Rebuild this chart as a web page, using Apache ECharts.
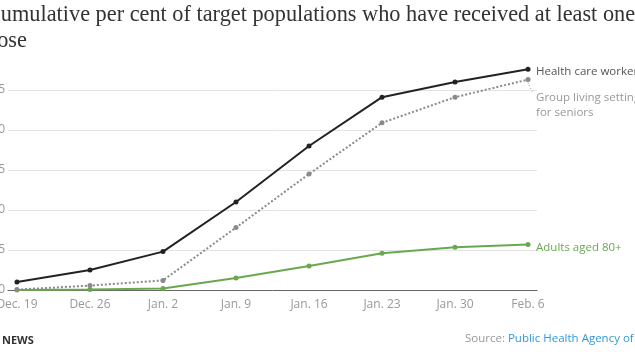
<!DOCTYPE html>
<html>
<head>
<meta charset="utf-8">
<script src="https://cdn.jsdelivr.net/npm/echarts@6/dist/echarts.min.js"></script>
<style>
  html, body { margin: 0; padding: 0; background: #fff; }
  #chart { position: absolute; left: 0; top: 0; width: 635px; height: 357px; }
</style>
</head>
<body>
<div id="chart"></div>
<script>
const categories = ['Dec. 19', 'Dec. 26', 'Jan. 2', 'Jan. 9', 'Jan. 16', 'Jan. 23', 'Jan. 30', 'Feb. 6'];
const healthCareWorkers = [1.0, 2.5, 4.8, 11.0, 18.0, 24.1, 26.0, 27.6];
const groupLivingSeniors = [0.05, 0.55, 1.2, 7.8, 14.5, 20.9, 24.1, 26.3];
const adults80plus = [0.0, 0.05, 0.2, 1.5, 3.0, 4.6, 5.35, 5.7];
const yTicks = [0, 5, 10, 15, 20, 25];

const titleLine1 = 'Cumulative per cent of target populations who have received at least one';
const titleLine2 = 'dose';

function toXY(arr) { return arr.map((v, i) => [i, v]); }

const chart = echarts.init(document.getElementById('chart'), null, { renderer: 'canvas' });
const labelFont = { fontFamily: 'Open Sans', fontSize: 12 };
const endFont = { fontFamily: 'Open Sans', fontSize: 11.5 };
const titleStyle = { fontFamily: 'Liberation Serif', fontSize: 22.3, fill: '#333' };

const baseGraphic = [
  { type: 'text', x: -14, y: 4, style: { text: titleLine1, ...titleStyle } },
  { type: 'text', x: -14, y: 30, style: { text: titleLine2, ...titleStyle } },
  { type: 'text', x: 2, y: 335, style: { text: 'NEWS', fontFamily: 'Open Sans', fontSize: 11, fontWeight: 'bold', fill: '#333' } },
  { type: 'text', x: 465, y: 333, style: {
      text: '{a|Source:} {b|Public Health Agency of Canada}',
      fontFamily: 'Open Sans', fontSize: 11.5,
      rich: {
        a: { fontFamily: 'Open Sans', fontSize: 11.5, fill: '#999', color: '#999' },
        b: { fontFamily: 'Open Sans', fontSize: 11.5, fill: '#3399d6', color: '#3399d6' }
      }
  } }
];

const option = {
  animation: false,
  grid: { left: 8, right: 98, top: 90, bottom: 67, containLabel: false, outerBoundsMode: 'none' },
  xAxis: {
    type: 'value',
    min: -0.123,
    max: 7.123,
    interval: 1,
    splitLine: { show: false },
    axisTick: { show: false },
    axisLine: { show: true, lineStyle: { color: '#666', width: 1 } },
    axisLabel: {
      ...labelFont, color: '#999', margin: 9,
      showMinLabel: true, showMaxLabel: true,
      customValues: categories.map((c, i) => i),
      formatter: v => categories[Math.round(v)] || ''
    }
  },
  yAxis: {
    type: 'value',
    min: 0, max: yTicks[yTicks.length - 1], interval: 5,
    axisLine: { show: false },
    axisTick: { show: false },
    splitLine: { lineStyle: { color: '#e3e3e3', width: 1 } },
    axisLabel: { ...labelFont, color: '#999', margin: 3, formatter: v => String(v) }
  },
  series: [
    {
      name: 'Adults aged 80+',
      type: 'line', clip: false,
      data: toXY(adults80plus),
      symbol: 'circle', symbolSize: 5,
      lineStyle: { color: '#6aa84f', width: 2 },
      itemStyle: { color: '#6aa84f' },
      endLabel: { show: true, formatter: 'Adults aged 80+', color: '#6aa84f', ...endFont, distance: 5, offset: [3, 3] },
      z: 3
    },
    {
      name: 'Group living settings for seniors',
      type: 'line', clip: false,
      data: toXY(groupLivingSeniors),
      symbol: 'circle', symbolSize: 5,
      lineStyle: { color: '#8a8a8a', width: 2, type: [2, 2] },
      itemStyle: { color: '#8a8a8a' },
      endLabel: { show: true, formatter: 'Group living settings\nfor seniors', color: '#999', ...endFont, lineHeight: 15, distance: 5, offset: [3, 26] },
      z: 4
    },
    {
      name: 'Health care workers',
      type: 'line', clip: false,
      data: toXY(healthCareWorkers),
      symbol: 'circle', symbolSize: 5,
      lineStyle: { color: '#222', width: 2 },
      itemStyle: { color: '#222' },
      endLabel: { show: true, formatter: 'Health care workers', color: '#555', ...endFont, distance: 5, offset: [3, 3] },
      z: 5
    }
  ],
  graphic: baseGraphic
};
chart.setOption(option);

// dotted leader from last group-living point to its label
const last = groupLivingSeniors.length - 1;
const p = chart.convertToPixel({ gridIndex: 0 }, [last, groupLivingSeniors[last]]);
chart.setOption({
  graphic: baseGraphic.concat([
    { type: 'line', shape: { x1: p[0], y1: p[1] + 3, x2: p[0] + 5, y2: p[1] + 14 }, style: { stroke: '#999', lineWidth: 1, lineDash: [1, 2] } }
  ])
});
</script>
</body>
</html>
